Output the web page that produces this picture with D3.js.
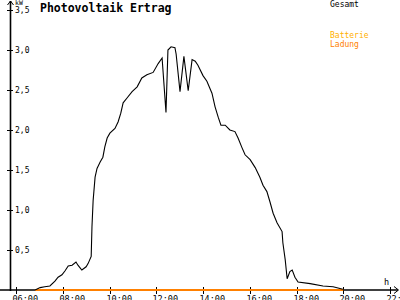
<!DOCTYPE html>
<html>
<head>
<meta charset="utf-8">
<script src="https://cdn.jsdelivr.net/npm/d3@7"></script>
<style>
  body { margin: 0; background: #fff; }
  svg { display: block; font-family: "DejaVu Sans Mono", monospace; }
</style>
</head>
<body>
<svg id="chart" width="400" height="300"></svg>
<script>
// Gesamt (total output), kW over the day
const times = [
  "06:49","07:02","07:14","07:27","07:40","07:48","07:58","08:06","08:14","08:24",
  "08:34","08:39","08:44","08:49","09:00","09:05","09:13","09:15","09:18","09:23",
  "09:28","09:36","09:43","09:48","09:54","10:01","10:14","10:22","10:29","10:35",
  "10:45","10:58","11:11","11:23","11:36","11:52","12:05","12:15","12:25","12:30",
  "12:38","12:48","12:51","13:01","13:11","13:22","13:32","13:40","13:47","14:00",
  "14:10","14:23","14:31","14:39","14:46","14:57","15:09","15:22","15:30","15:40",
  "15:48","16:01","16:14","16:26","16:34","16:44","16:52","17:00","17:10","17:23",
  "17:25","17:31","17:36","17:43","17:49","17:56","18:04","18:35","19:08","19:34",
  "19:59"
];
const gesamt = [
  0.00,0.03,0.04,0.05,0.11,0.16,0.19,0.24,0.30,0.31,
  0.35,0.31,0.28,0.25,0.29,0.33,0.42,0.79,1.12,1.41,
  1.52,1.60,1.66,1.79,1.90,1.96,2.02,2.10,2.21,2.34,
  2.40,2.48,2.54,2.65,2.69,2.72,2.83,2.90,2.22,3.00,
  3.04,3.03,2.95,2.48,2.92,2.49,2.88,2.86,2.81,2.68,
  2.61,2.46,2.29,2.16,2.06,2.06,2.00,1.98,1.90,1.78,
  1.69,1.63,1.53,1.41,1.31,1.23,1.10,0.96,0.84,0.73,
  0.59,0.38,0.14,0.23,0.25,0.16,0.10,0.08,0.05,0.04,
  0.01
];
// Batterie Ladung (battery charging), stays at zero
const ladungTimes = ["06:49", "20:00"];
const ladung = [0, 0];

const xTicks = ["06:00","08:00","10:00","12:00","14:00","16:00","18:00","20:00","22:00"];
const yTicks = [0.5, 1.0, 1.5, 2.0, 2.5, 3.0, 3.5];

const parse = d3.timeParse("%H:%M");
const svg = d3.select("#chart");

const x = d3.scaleTime()
  .domain([parse("06:00"), parse("22:00")])
  .range([16, 390]);
const y = d3.scaleLinear()
  .domain([0, 3.5])
  .range([290, 10]);

const fmt = v => d3.format(".1f")(v).replace(".", ",");

// y axis
svg.append("line")
  .attr("x1", 10.5).attr("x2", 10.5)
  .attr("y1", 1).attr("y2", 291)
  .attr("stroke", "#000").attr("stroke-width", 1.6);
svg.append("path")
  .attr("d", "M7.5,5 L10.5,1 L13.5,5")
  .attr("fill", "none").attr("stroke", "#000");
const yt = svg.append("g").selectAll("g")
  .data(yTicks).enter().append("g")
  .attr("transform", d => `translate(0,${Math.round(y(d)) + 0.5})`);
yt.append("line")
  .attr("x1", 7).attr("x2", 13)
  .attr("stroke", "#000");
yt.append("text")
  .attr("x", 15).attr("y", 0).attr("dy", "0.35em")
  .attr("font-size", 8)
  .text(fmt);
svg.append("text")
  .attr("x", 15).attr("y", 5)
  .attr("font-size", 6.5)
  .text("kW");

// x axis
svg.append("line")
  .attr("x1", 0).attr("x2", 398)
  .attr("y1", 290).attr("y2", 290)
  .attr("stroke", "#000").attr("stroke-width", 1.6);
svg.append("path")
  .attr("d", "M394,286.5 L398.5,290 L394,293.5")
  .attr("fill", "none").attr("stroke", "#000");
const xt = svg.append("g").selectAll("g")
  .data(xTicks).enter().append("g")
  .attr("transform", d => `translate(${Math.round(x(parse(d))) + 0.5},0)`);
xt.append("line")
  .attr("y1", 287).attr("y2", 294)
  .attr("stroke", "#000");
xt.append("text")
  .attr("x", -4).attr("y", 301.5)
  .attr("font-size", 8.5)
  .text(d => d);
svg.append("text")
  .attr("x", 384).attr("y", 285)
  .attr("font-size", 8.5)
  .text("h");

// battery charging line
svg.append("path")
  .datum(ladungTimes.map((t, i) => [parse(t), ladung[i]]))
  .attr("fill", "none")
  .attr("stroke", "#ff8000")
  .attr("stroke-width", 2)
  .attr("d", d3.line().x(d => x(d[0])).y(d => y(d[1])));

// total line
svg.append("path")
  .datum(times.map((t, i) => [parse(t), gesamt[i]]))
  .attr("fill", "none")
  .attr("stroke", "#000")
  .attr("stroke-width", 1.1)
  .attr("d", d3.line().x(d => x(d[0])).y(d => y(d[1])));

// title and legend
svg.append("text")
  .attr("x", 40).attr("y", 12)
  .attr("font-size", 11.5).attr("font-weight", "bold")
  .text("Photovoltaik Ertrag");
svg.append("text")
  .attr("x", 330).attr("y", 7)
  .attr("font-size", 8)
  .text("Gesamt");
svg.append("text")
  .attr("x", 330).attr("y", 38)
  .attr("font-size", 8).attr("fill", "#ffb000")
  .text("Batterie");
svg.append("text")
  .attr("x", 330).attr("y", 47)
  .attr("font-size", 8).attr("fill", "#ff8000")
  .text("Ladung");
</script>
</body>
</html>
